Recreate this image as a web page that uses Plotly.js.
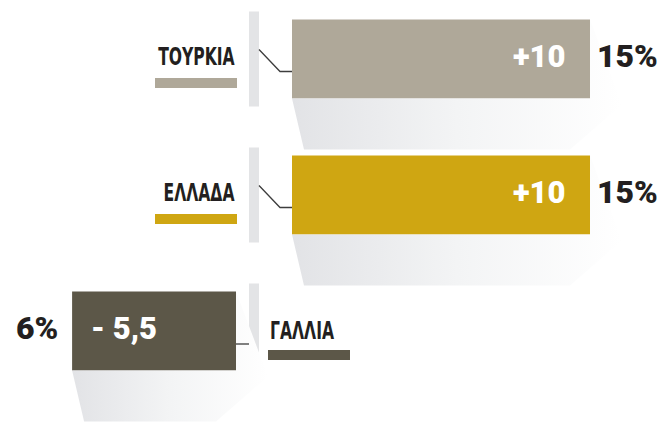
<!DOCTYPE html>
<html>
<head>
<meta charset="utf-8">
<script src="https://cdn.plot.ly/plotly-3.0.1.min.js"></script>
<style>html,body{margin:0;padding:0;background:#fff;}#chart{width:659px;height:422px;}</style>
</head>
<body>
<div id="chart"></div>
<script>
// ---- data ----
const countries = ['ΤΟΥΡΚΙΑ', 'ΕΛΛΑΔΑ', 'ΓΑΛΛΙΑ'];
const changes = [10, 10, -5.5];
const changeLabels = ['+10', '+10', '- 5,5'];
const shares = ['15%', '15%', '6%'];
const colors = ['#afa899', '#cfa612', '#5c5748'];

// ---- layout constants (style) ----
const W = 659, H = 422;
const PXX = 29.8;            // px per x unit
const PXY = 136;             // px per row
const ZERO_PX = 236;         // pixel of x=0
const POS_OFFSET = 56 / PXX; // gap for positive bars
const BAR_W = 0.58;
const LABEL_SCALE = 0.68;    // horizontal condensing of country labels
const xr = [-ZERO_PX / PXX, (W - ZERO_PX) / PXX];
const yr = [2 + (H - 331) / PXY, -59 / PXY];
const dx = p => p / PXX, dy = p => p / PXY;
const LABEL_FONT = {family: 'DejaVu Sans Condensed, DejaVu Sans, sans-serif', size: 25.5, color: '#231f20', weight: 'bold', stretch: 'condensed'};
const NUM_WEIGHT = 900;

const rows = countries.map((c, i) => i);
const bases = changes.map(v => v >= 0 ? POS_OFFSET : 0);

const traces = [];
const shapes = [];
const annotations = [];
const labelIdx = [];

rows.forEach(i => {
  const v = changes[i], b = bases[i];
  const start = v >= 0 ? b : b + v;   // left edge
  const end = v >= 0 ? b + v : b;     // right edge
  const top = i - BAR_W / 2, bot = i + BAR_W / 2;
  // shadow
  traces.push({
    type: 'scatter', mode: 'lines', hoverinfo: 'skip', showlegend: false,
    x: [start, start + dx(12), end - dx(20), end + dx(32), end, end, start],
    y: [bot, bot + dy(51), bot + dy(51), bot + dy(6), top, bot, bot],
    line: {width: 0}, fill: 'toself',
    fillgradient: {type: 'horizontal', colorscale: [[0, 'rgba(226,227,230,1)'], [0.5, 'rgba(243,244,245,1)'], [1, 'rgba(255,255,255,1)']]}
  });
  // separator
  shapes.push({type: 'rect', xref: 'x', yref: 'y', layer: 'below',
    x0: dx(249 - ZERO_PX), x1: dx(259 - ZERO_PX), y0: i - dy(47.5), y1: i + dy(47.5),
    fillcolor: '#e3e4e6', line: {width: 0}});
  if (v >= 0) {
    shapes.push({type: 'path', xref: 'x', yref: 'y', layer: 'above',
      path: `M ${dx(259 - ZERO_PX)},${i - dy(9.5)} L ${dx(280 - ZERO_PX)},${i + dy(12.5)} L ${b},${i + dy(12.5)}`,
      line: {color: '#3d3d3d', width: 1.3}});
    labelIdx.push({idx: annotations.length, anchor: 'right'});
    annotations.push({xref: 'x', yref: 'y', x: dx(237 - ZERO_PX), y: i, yshift: 3.5,
      xanchor: 'right', yanchor: 'middle', showarrow: false, text: countries[i], font: LABEL_FONT});
    shapes.push({type: 'rect', xref: 'x', yref: 'y',
      x0: dx(155 - ZERO_PX), x1: dx(237 - ZERO_PX), y0: i + dy(19), y1: i + dy(29),
      fillcolor: colors[i], line: {width: 0}});
  } else {
    shapes.push({type: 'line', xref: 'x', yref: 'y', layer: 'above',
      x0: 0, x1: dx(249 - ZERO_PX), y0: i + dy(13), y1: i + dy(13),
      line: {color: '#3d3d3d', width: 1.3}});
    labelIdx.push({idx: annotations.length, anchor: 'left'});
    annotations.push({xref: 'x', yref: 'y', x: dx(268 - ZERO_PX), y: i, yshift: 1,
      xanchor: 'left', yanchor: 'middle', showarrow: false, text: countries[i], font: LABEL_FONT});
    shapes.push({type: 'rect', xref: 'x', yref: 'y',
      x0: dx(268 - ZERO_PX), x1: dx(350 - ZERO_PX), y0: i + dy(19), y1: i + dy(29),
      fillcolor: colors[i], line: {width: 0}});
  }
  annotations.push({xref: 'x', yref: 'y', x: v >= 0 ? end : start, y: i,
    xshift: v >= 0 ? -22 : 17, yshift: 3,
    xanchor: v >= 0 ? 'right' : 'left', yanchor: 'middle', showarrow: false,
    text: changeLabels[i], font: {family: 'Roboto', size: 31, color: '#ffffff', weight: NUM_WEIGHT}});
  annotations.push({xref: 'x', yref: 'y', x: v >= 0 ? end : start, y: i,
    xshift: v >= 0 ? 5 : -12, yshift: 3,
    xanchor: v >= 0 ? 'left' : 'right', yanchor: 'middle', showarrow: false,
    text: shares[i], font: {family: 'Roboto', size: 32, color: '#231f20', weight: NUM_WEIGHT}});
});

traces.push({
  type: 'bar', orientation: 'h', x: changes, y: rows, base: bases,
  width: BAR_W, marker: {color: colors, line: {width: 0}},
  hoverinfo: 'skip', showlegend: false
});

const layout = {
  width: W, height: H,
  margin: {l: 0, r: 0, t: 0, b: 0},
  paper_bgcolor: '#ffffff', plot_bgcolor: 'rgba(0,0,0,0)',
  xaxis: {range: xr, visible: false, fixedrange: true},
  yaxis: {range: yr, visible: false, fixedrange: true},
  shapes: shapes, annotations: annotations, showlegend: false
};

Plotly.newPlot('chart', traces, layout, {displayModeBar: false, staticPlot: true}).then(gd => {
  labelIdx.forEach(l => {
    const g = gd.querySelector(`.annotation[data-index="${l.idx}"]`);
    if (!g) return;
    const t = g.querySelector('text');
    const bb = t.getBBox();
    const ax = l.anchor === 'right' ? bb.x + bb.width : bb.x;
    t.setAttribute('transform', `translate(${ax},0) scale(${LABEL_SCALE},1) translate(${-ax},0)`);
  });
});
</script>
</body>
</html>
